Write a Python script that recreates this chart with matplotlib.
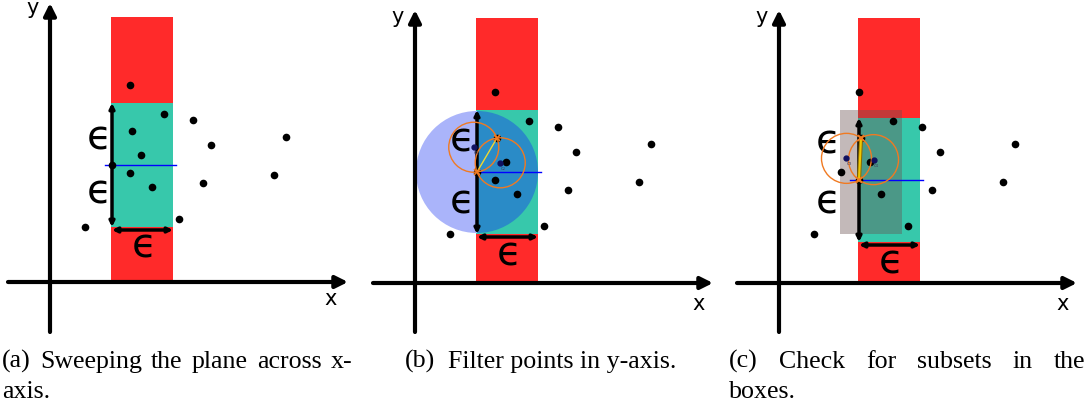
import numpy as np
import matplotlib.pyplot as plt
from matplotlib.patches import Rectangle, Wedge, Circle

W, H = 1091, 409

# points of the plane, pixel units, origin where the x and y axes cross
pts_x = [80, 114, 143, 236, 161, 91, 82, 80, 224, 153, 102, 129, 35, 62]
pts_y = [191, 162, 156, 139, 131, 121, 145, 103, 101, 93, 89, 57, 49, 111]

eps = 62          # box width (epsilon)
r_pair = 25       # radius of the small circles through a point pair
strip_top = 265

# which point the sweep line sits on, and the partner point in the pair
sweep_idx = {'a': 13, 'b': 13, 'c': 7}
pair_idx = {'b': 6, 'c': 6}
prev_idx = 13     # box of the previous step, drawn grey in (c)

red = '#ff2a2a'
green = '#37c8ab'
orange = '#f07a22'

# panel placement: left, width, origin x, origin y (figure px from top), y shift of points
layout = {
    'a': (0, 363, 50, 282, 6),
    'b': (365, 363, 415, 283, 0),
    'c': (730, 361, 779, 283, 0),
}
eps_labels = {
    'a': [(49, 144), (49, 89)],
    'b': [(47, 143), (47, 80)],
    'c': [(49, 141), (49, 81)],
}
blue_start = {'a': 7, 'b': 0, 'c': 9}
y_tip = {'a': 279, 'b': 273, 'c': 273}
ylab = {'a': (-17, 268), 'b': (-17.5, 260), 'c': (-17, 260)}
xlab = {'a': (281, -23), 'b': (284, -27), 'c': (284, -27)}

# captions: (baseline y, left x, right x or None, words)
captions = [
    (368, 2, 352, ['(a)', 'Sweeping', 'the', 'plane', 'across', 'x-']),
    (398, 2, None, ['axis.']),
    (368, 405, None, ['(b)']),
    (368, None, 676, ['Filter points in y-axis.']),
    (368, 729, 1085, ['(c)', 'Check', 'for', 'subsets', 'in', 'the']),
    (398, 729, None, ['boxes.']),
]

fig = plt.figure(figsize=(W / 100, H / 100), dpi=100)


def arrow(ax, p0, p1, style, lw, ms):
    ax.annotate('', xy=p1, xytext=p0,
                arrowprops=dict(arrowstyle=style, lw=lw, color='k',
                                mutation_scale=ms, shrinkA=0, shrinkB=0),
                zorder=6)


def pair_centers(p, q, r):
    p, q = np.array(p, float), np.array(q, float)
    m = (p + q) / 2
    d = q - p
    half = np.hypot(*d) / 2
    h = np.sqrt(max(r ** 2 - half ** 2, 0))
    n = np.array([-d[1], d[0]]) / np.hypot(*d)
    return m + h * n, m - h * n


for key, (left, width, ox, oy, shift) in layout.items():
    ax = fig.add_axes([left / W, 77 / H, width / W, 332 / H])
    ax.set_xlim(left - ox, left + width - ox)
    ax.set_ylim(oy - 332, oy)
    ax.axis('off')

    xs = np.array(pts_x, float)
    ys = np.array(pts_y, float) + shift
    sx, sy = xs[sweep_idx[key]], ys[sweep_idx[key]]
    x0 = sx - 1

    # red strip and green box
    ax.add_patch(Rectangle((x0, 2), eps, strip_top - 2, color=red, lw=0, zorder=1))
    ax.add_patch(Rectangle((x0, sy - eps), eps, 2 * eps, color=green, lw=0, zorder=2))

    # axes with arrow heads
    arrow(ax, (0, oy - 332), (0, y_tip[key]), '-|>', 3, 18)
    arrow(ax, (-42, 0), (298, 0), '-|>', 3, 18)
    ax.text(*ylab[key], 'y', fontsize=15, ha='center', va='baseline')
    ax.text(*xlab[key], 'x', fontsize=15, ha='center', va='baseline')

    # epsilon measures
    arrow(ax, (sx, sy - eps), (sx, sy + eps), '<|-|>', 2.5, 7)
    arrow(ax, (sx, sy - eps - 3), (sx + eps - 1, sy - eps - 3), '<|-|>', 2.5, 7)
    for lx, ly in eps_labels[key]:
        ax.text(lx, ly - 11, 'ϵ', fontsize=29, ha='center', va='baseline', zorder=7)
    ax.text(x0 + eps / 2 + 2, sy - 82 - 11, 'ϵ', fontsize=29, ha='center',
            va='baseline', zorder=7)

    # sweep line
    ax.plot([sx - blue_start[key], x0 + eps + 3], [sy, sy], color='#0000ff',
            lw=1, zorder=6)

    ax.plot(xs, ys, 'o', color='k', ms=5.5, mec='none', zorder=8)

    if key == 'b':
        ax.add_patch(Wedge((sx, sy), eps - 1, 90, 270, color='#aab4fa', lw=0, zorder=3))
        ax.add_patch(Wedge((sx, sy), eps - 1, -90, 90, color='#2a8bc7', lw=0, zorder=3))

    if key == 'c':
        px, py = xs[prev_idx], ys[prev_idx]
        ax.add_patch(Rectangle((px - 1, py - eps), eps, 2 * eps, color='#6b5252',
                               alpha=0.4, lw=0, zorder=4))

    if key in pair_idx:
        qx, qy = xs[pair_idx[key]], ys[pair_idx[key]]
        c1, c2 = pair_centers((sx, sy), (qx, qy), r_pair)
        if key == 'b':
            ax.plot([sx, qx], [sy, qy], color='#f0d830', lw=1, zorder=9)
            names = ['c\u2081', 'c\u2082']
        else:
            ax.plot([sx, qx], [sy, qy], color='#8a6a00', lw=3, zorder=9)
            ax.plot([sx, qx], [sy, qy], color='#f0c800', lw=1.5, zorder=9)
            names = ['c\u2083', 'c\u2084']
        for c, nm in zip([c1, c2], names):
            ax.add_patch(Circle(c, r_pair, fill=False, ec=orange, lw=1, zorder=9))
            ax.plot(c[0], c[1], 'o', color='#101060', ms=3.5, zorder=10)
            ax.text(c[0] + 3, c[1] - 3, nm, fontsize=4, color='#404060',
                    ha='center', va='top', zorder=10)
        ax.plot([sx, qx], [sy, qy], 'x', color=orange, ms=5, mew=1.2, zorder=10)

# captions, justified like the paper's subcaptions
cap = dict(fontsize=18.6, family='Liberation Serif', va='baseline')
renderer = fig.canvas.get_renderer()
for y, x_left, x_right, words in captions:
    if x_left is None:
        fig.text(x_right / W, 1 - y / H, words[0], ha='right', **cap)
        continue
    texts = [fig.text(0, 1 - y / H, s, **cap) for s in words]
    widths = [t.get_window_extent(renderer).width for t in texts]
    if x_right is None or len(words) == 1:
        gap = 0
    else:
        gap = (x_right - x_left - sum(widths)) / (len(words) - 1)
    x = x_left
    for t, w in zip(texts, widths):
        t.set_x(x / W)
        x += w + gap

fig.savefig('out.png', dpi=100)
